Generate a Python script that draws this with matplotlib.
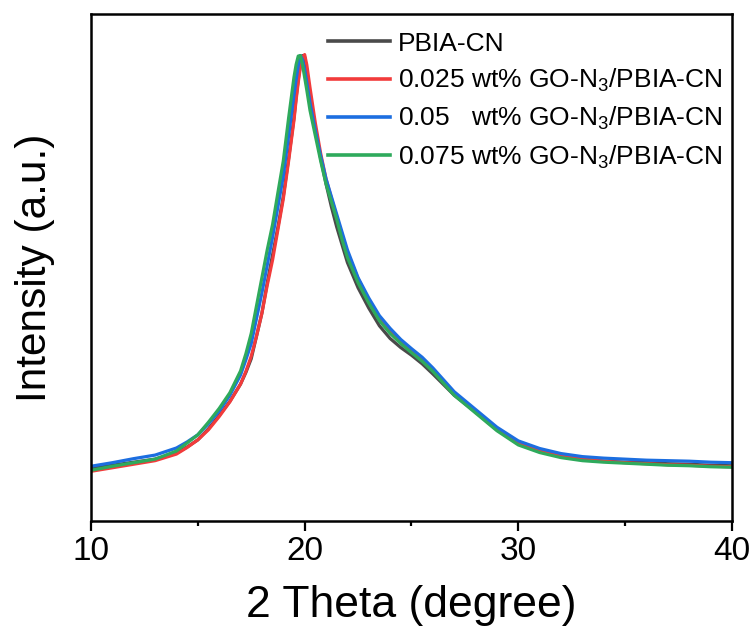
import matplotlib
matplotlib.use("Agg")
import matplotlib.pyplot as plt
from matplotlib.ticker import MultipleLocator

plt.rcParams['font.family'] = ['Liberation Sans', 'DejaVu Sans']
plt.rcParams['mathtext.fontset'] = 'custom'
plt.rcParams['mathtext.rm'] = 'Liberation Sans'
plt.rcParams['mathtext.it'] = 'Liberation Sans:italic'
plt.rcParams['mathtext.bf'] = 'Liberation Sans:bold'

two_theta = [10, 11, 12, 13, 14, 14.5, 15, 15.5, 16, 16.5, 17, 17.25, 17.5, 17.75, 18, 18.25,
             18.5, 18.75, 19, 19.25, 19.5, 19.6, 19.7, 19.8, 19.9, 20, 20.1, 20.25, 20.5, 20.75,
             21, 21.25, 21.5, 21.75, 22, 22.5, 23, 23.5, 24, 24.5, 25, 25.5, 26, 27, 28, 29,
             30, 31, 32, 33, 34, 35, 36, 37, 38, 39, 40]

pbia_cn = [10.4, 11.0, 11.6, 12.2, 13.4, 14.6, 16.0, 18.2, 20.8, 23.6, 27.0, 29.3, 32.0, 36.5,
           41.0, 47.0, 52.5, 58.0, 64.0, 71.5, 79.5, 83.5, 87.0, 90.0, 91.8, 91.5, 89.0, 84.0,
           77.5, 71.5, 66.5, 62.0, 58.0, 54.5, 51.0, 46.0, 42.0, 38.5, 36.0, 34.2, 32.7, 31.0,
           29.0, 24.8, 21.5, 18.0, 15.2, 13.8, 12.8, 12.2, 11.8, 11.6, 11.5, 11.3, 11.2, 11.0,
           10.9]

go_0025 = [9.8, 10.5, 11.2, 11.9, 13.2, 14.5, 16.0, 18.0, 20.6, 23.5, 27.0, 29.5, 32.5, 36.5,
           41.0, 46.5, 51.5, 57.5, 63.5, 71.0, 79.0, 83.0, 86.5, 89.5, 91.5, 92.0, 90.0, 85.5,
           78.5, 72.5, 67.5, 63.7, 60.0, 56.5, 53.0, 47.8, 43.6, 40.0, 37.5, 35.3, 33.5, 31.7,
           29.7, 25.0, 21.5, 18.0, 15.3, 13.8, 12.8, 12.2, 11.8, 11.5, 11.3, 11.1, 11.0, 10.8,
           10.7]

go_005 = [10.8, 11.5, 12.3, 13.0, 14.4, 15.6, 17.0, 19.2, 21.7, 24.8, 28.8, 31.8, 35.0, 40.0,
          45.0, 50.5, 56.0, 62.0, 68.0, 76.0, 84.0, 87.0, 89.8, 91.8, 91.0, 89.0, 86.5, 82.5,
          77.0, 72.0, 67.5, 64.0, 60.5, 57.0, 53.5, 48.0, 44.0, 40.5, 38.0, 35.8, 34.0, 32.3,
          30.2, 25.5, 22.0, 18.5, 15.8, 14.3, 13.3, 12.7, 12.4, 12.2, 12.0, 11.9, 11.8, 11.6,
          11.5]

go_0075 = [10.0, 10.8, 11.5, 12.2, 13.8, 15.4, 17.0, 19.5, 22.2, 25.3, 29.6, 33.0, 37.0, 42.5,
           48.0, 53.5, 58.5, 64.8, 71.0, 79.5, 87.5, 90.0, 91.7, 91.8, 90.0, 87.5, 85.0, 81.0,
           76.0, 71.0, 66.5, 63.0, 59.5, 55.5, 52.0, 47.0, 43.0, 39.5, 37.0, 35.0, 33.2, 31.5,
           29.5, 24.8, 21.3, 17.8, 15.0, 13.5, 12.5, 11.9, 11.6, 11.4, 11.2, 11.0, 10.9, 10.7,
           10.6]

labels = ["PBIA-CN",
          r"0.025 wt% GO-N$_\mathregular{3}$/PBIA-CN",
          r"0.05   wt% GO-N$_\mathregular{3}$/PBIA-CN",
          r"0.075 wt% GO-N$_\mathregular{3}$/PBIA-CN"]
colors = ["#4a4a4a", "#f23b3b", "#1c6ee0", "#2eaa5c"]
series = [pbia_cn, go_0025, go_005, go_0075]

fig = plt.figure(figsize=(7.55, 6.41), dpi=100)
ax = fig.add_axes([0.1205, 0.1872, 0.8490, 0.7910])

for ys, c, lab in zip(series, colors, labels):
    ax.plot(two_theta, ys, color=c, lw=2.3, label=lab, solid_joinstyle='round')

ax.set_xlim(10, 40)
ax.set_ylim(0, 100)
ax.xaxis.set_major_locator(MultipleLocator(10))
ax.xaxis.set_minor_locator(MultipleLocator(5))
ax.set_yticks([])
ax.tick_params(axis='x', which='major', direction='out', length=7, width=1.6,
               labelsize=24, pad=4)
ax.tick_params(axis='x', which='minor', direction='out', length=3.5, width=1.6)
for s in ax.spines.values():
    s.set_linewidth(1.8)

ax.set_xlabel("2 Theta (degree)", fontsize=32, labelpad=13)
ax.set_ylabel("Intensity (a.u.)", fontsize=30.5, labelpad=26)

leg = ax.legend(loc='upper left', bbox_to_anchor=(0.37, 0.965), frameon=False,
                fontsize=19, handlelength=2.35, handletextpad=0.3,
                borderaxespad=0, borderpad=0, labelspacing=0.42)
for l in leg.get_lines():
    l.set_linewidth(2.6)

fig.savefig("out.png", dpi=100)
